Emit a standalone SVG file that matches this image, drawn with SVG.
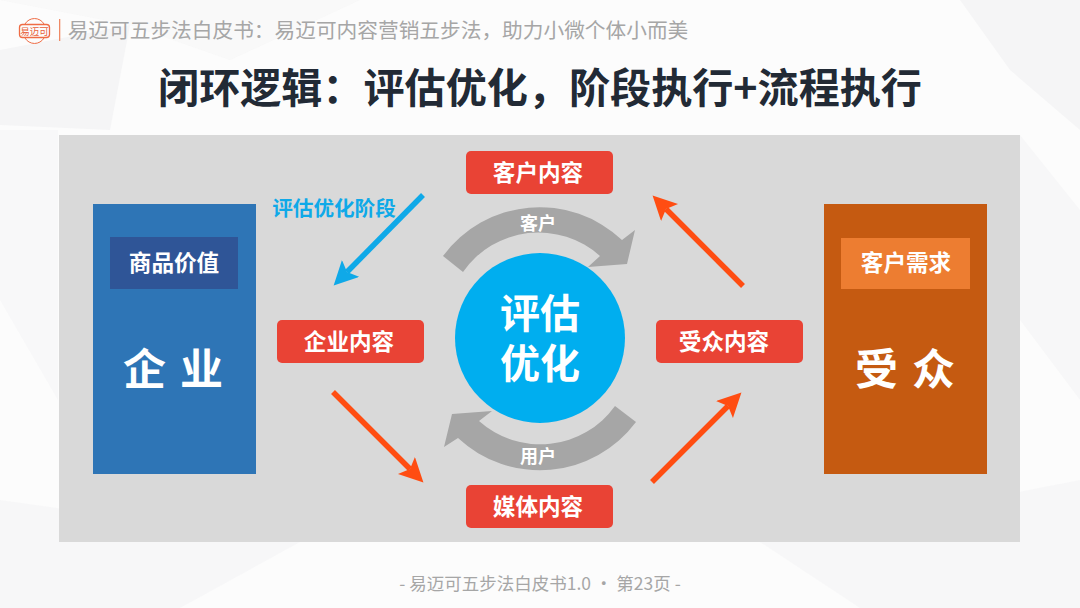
<svg xmlns="http://www.w3.org/2000/svg" width="1080" height="608" viewBox="0 0 1080 608">
<style>
text{font-family:"Noto Sans CJK SC","Noto Sans",sans-serif;text-anchor:middle}
.b{font-weight:700;fill:#fff}
.lab{font-size:22.600px}
.red{fill:#e94335}
.or{stroke:#ff4d12;stroke-width:5.500;fill:none;marker-end:url(#mo)}
.arc{fill:#a6a6a6}
.poly{fill:#f5f5f6}
</style>
<defs>
<marker id="mo" markerUnits="userSpaceOnUse" markerWidth="30" markerHeight="30" refX="5" refY="12" orient="auto"><path d="M0 0L24 12L0 24L5 12Z" fill="#ff4d12"/></marker>
<marker id="mb" markerUnits="userSpaceOnUse" markerWidth="30" markerHeight="30" refX="5" refY="12" orient="auto"><path d="M0 0L24 12L0 24L5 12Z" fill="#0fa9e8"/></marker>
</defs>
<rect width="1080" height="608" fill="#fcfcfc"/>
<g id="background">
<path class="poly" d="M0 50L130 25L110 130L0 125Z"/>
<path class="poly" d="M0 0H360L230 60L130 25Z" opacity=".5"/>
<path class="poly" d="M960 0H1080V130L1010 70Z"/>
<path class="poly" d="M1020 135L1080 210V400L1020 320Z" opacity=".7"/>
<path class="poly" d="M0 130H58V400L0 300Z" opacity=".6"/>
<path class="poly" d="M0 500L300 542L180 608H0Z" opacity=".7"/>
<path class="poly" d="M1080 480V608H860L760 542Z" opacity=".7"/>
</g>
<g id="header">
<g id="logo" fill="none" stroke="#ef6c45">
<rect x="19.500" y="24.500" width="30" height="13" rx="3" stroke-width="1.300"/>
<path d="M25 24A11 11 0 0 1 44 24M25 38A11 11 0 0 0 44 38" stroke-width="1"/>
<text x="34.500" y="35" font-size="9.500" fill="#e8603a" stroke="none">易迈可</text>
</g>
<rect x="59" y="19" width="1.300" height="22" fill="#ef8a66"/>
<text x="378" y="37.500" font-size="20.700" fill="#a6a6a6">易迈可五步法白皮书：易迈可内容营销五步法，助力小微个体小而美</text>
</g>
<text id="title" x="540" y="103" font-size="41.100" font-weight="700" fill="#222a35">闭环逻辑：评估优化，阶段执行+流程执行</text>
<rect id="panel" x="59" y="135" width="961" height="407" fill="#d9d9d9"/>
<g id="connectors">
<path class="or" d="M333 392L410 469"/>
<path class="or" d="M652 482L728 406"/>
<path class="or" d="M743 286L666 209"/>
<path d="M423 195L347 272" stroke="#0fa9e8" stroke-width="5.500" fill="none" marker-end="url(#mb)"/>
<path class="arc" d="M443 256A120 120 0 0 1 622 240L635 230L627 264L588 267L600 256A92 92 0 0 0 463 272Z"/>
<path class="arc" d="M636 422A120 120 0 0 1 458 438L444 447L452 414L492 411L479 421A92 92 0 0 0 615 406Z"/>
</g>
<g id="node-enterprise">
<rect x="93" y="204" width="163" height="270" fill="#2e75b6"/>
<rect x="110" y="237" width="128" height="52" fill="#2f5597"/>
<text class="b lab" x="174" y="271">商品价值</text>
<text class="b" x="174" y="385" font-size="43" letter-spacing="14" dx="6">企业</text>
</g>
<g id="node-audience">
<rect x="824" y="204" width="163" height="270" fill="#c55a11"/>
<rect x="841" y="238" width="129" height="51" fill="#ed7d31"/>
<text class="b lab" x="906" y="271">客户需求</text>
<text class="b" x="906" y="385" font-size="43" letter-spacing="14" dx="6">受众</text>
</g>
<g id="node-customer-content"><rect class="red" x="466" y="151" width="147" height="43" rx="5"/><text class="b lab" x="538" y="181">客户内容</text></g>
<g id="node-enterprise-content"><rect class="red" x="277" y="320" width="147" height="43" rx="5"/><text class="b lab" x="349" y="350">企业内容</text></g>
<g id="node-audience-content"><rect class="red" x="656" y="320" width="147" height="43" rx="5"/><text class="b lab" x="724" y="350">受众内容</text></g>
<g id="node-media-content"><rect class="red" x="466" y="485" width="147" height="43" rx="5"/><text class="b lab" x="538" y="515">媒体内容</text></g>
<g id="node-center">
<circle cx="540" cy="338" r="85" fill="#00aeef"/>
<text class="b" font-size="40"><tspan x="540" y="328">评估</tspan><tspan x="540" y="378">优化</tspan></text>
</g>
<text x="334" y="216" font-size="20.600" font-weight="700" fill="#0fa9e8">评估优化阶段</text>
<text class="b" x="538" y="230" font-size="18">客户</text>
<text class="b" x="538" y="463" font-size="18">用户</text>
<text id="footer" x="540" y="590" font-size="17.500" fill="#a6a6a6">- 易迈可五步法白皮书1.0 · 第23页 -</text>
</svg>
